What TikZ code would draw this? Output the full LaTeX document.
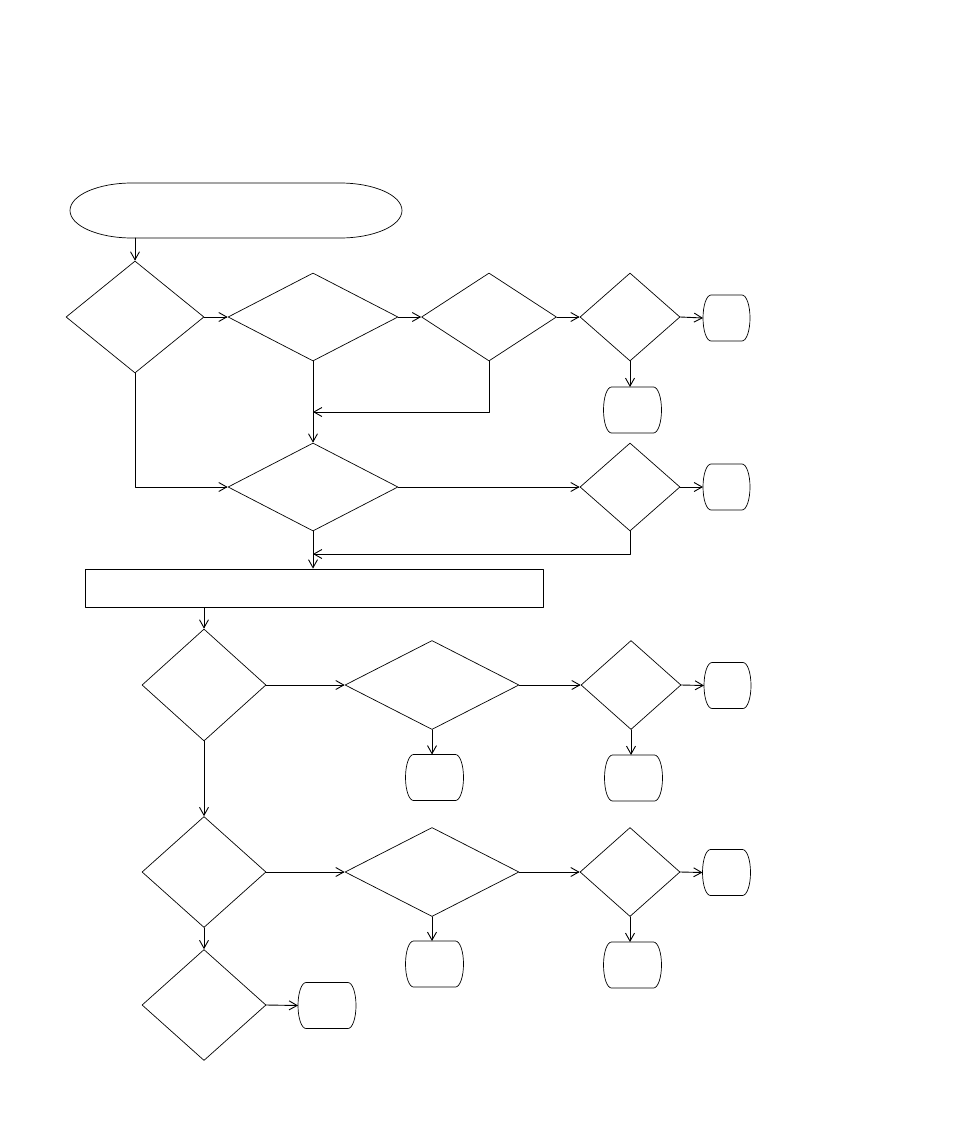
\documentclass[tikz,border=0pt]{standalone}
\usetikzlibrary{arrows.meta,shapes.geometric}
\newcommand{\termline}[3]{\draw [line width=0.7pt] ([xshift=#2]#1.north west)-- ([xshift=-#2]#1.north east) arc[start angle=90,end angle=-90,x radius=#2,y radius=#3] -- ([xshift=#2]#1.south west) arc[start angle=270,end angle=90,x radius=#2,y radius=#3];}

\begin{document}
\begin{tikzpicture}[line cap=round,line join=round,x=1pt,y=-1pt,
		>={Straight Barb[length=8pt,width=9pt]},
		decision/.style={diamond,draw,line width=0.7pt,inner sep=0pt,aspect=1},
		stopbox/.style={rectangle,inner sep=0pt,outer sep=0pt,minimum width=#1,minimum height=46},
		stopbox/.default=58,
		process/.style={rectangle,draw,line width=0.9pt,inner sep=0pt},
		flow/.style={->,line width=0.9pt}]
		\useasboundingbox (0,0) rectangle (954,1145);
		\node [rectangle,inner sep=0pt,outer sep=0pt,minimum width=332,minimum height=55] (start) at (236,210.5) {};
		\coordinate (s0) at (135,238);
		% row 1
		\node [decision,minimum width=138,minimum height=112] (d1) at (135,317) {};
		\node [decision,minimum width=170,minimum height=88] (d2) at (313,317) {};
		\node [decision,minimum width=135,minimum height=88] (d3) at (489,317) {};
		\node [decision,minimum width=100,minimum height=88] (d4) at (630,317) {};
		\node [stopbox=47] (t1) at (726.5,318) {};
		\node [stopbox] (t2) at (632.5,410) {};
		% row 2
		\node [decision,minimum width=170,minimum height=88] (d5) at (313,487) {};
		\node [decision,minimum width=100,minimum height=88] (d6) at (630,487) {};
		\node [stopbox=47] (t3) at (726.5,487) {};
		\coordinate (j1) at (313,412);
		\coordinate (j2) at (313,554);
		\node [process,minimum width=458,minimum height=38] (box) at (314,588) {};
		% row 3
		\node [decision,minimum width=124,minimum height=112] (d7) at (204,685) {};
		\node [decision,minimum width=174,minimum height=89] (d8) at (432,685) {};
		\node [decision,minimum width=100,minimum height=89] (d9) at (631,685) {};
		\node [stopbox=47] (t4) at (727.5,685.5) {};
		\node [stopbox] (t5) at (434.5,777.5) {};
		\node [stopbox] (t6) at (633.5,778) {};
		% row 4
		\node [decision,minimum width=124,minimum height=111] (d10) at (204,872) {};
		\node [decision,minimum width=174,minimum height=89] (d11) at (432,872) {};
		\node [decision,minimum width=100,minimum height=89] (d12) at (630,872) {};
		\node [stopbox=48] (t7) at (726.5,872.5) {};
		\node [stopbox] (t8) at (434.5,964) {};
		\node [stopbox] (t9) at (632.5,965) {};
		% row 5
		\node [decision,minimum width=124,minimum height=111] (d13) at (204,1005) {};
		\node [stopbox] (t10) at (327,1005.5) {};
		% terminal outlines
		\termline{start}{62pt}{27.5pt}
		\foreach \t in {t1,t2,t3,t4,t5,t6,t7,t8,t9,t10}
			\termline{\t}{8pt}{23pt};
		% connectors
		\draw [flow] (s0)-- (d1.north);
		\draw [flow] (d1.east)-- (d2.west);
		\draw [flow] (d2.east)-- (d3.west);
		\draw [flow] (d3.east)-- (d4.west);
		\draw [flow] (d4.east)-- (t1.west);
		\draw [flow] (d4.south)-- (d4.south |- t2.north);
		\draw [flow] (d2.south)-- (d5.north);
		\draw [flow] (d3.south) |- (j1);
		\draw [flow] (d1.south) |- (d5.west);
		\draw [flow] (d5.east)-- (d6.west);
		\draw [flow] (d6.east)-- (t3.west);
		\draw [flow] (d6.south) |- (j2);
		\draw [flow] (d5.south)-- (d5.south |- box.north);
		\draw [flow] (box.south -| d7.north)-- (d7.north);
		\draw [flow] (d7.east)-- (d8.west);
		\draw [flow] (d8.east)-- (d9.west);
		\draw [flow] (d9.east)-- (t4.west);
		\draw [flow] (d8.south)-- (d8.south |- t5.north);
		\draw [flow] (d9.south)-- (d9.south |- t6.north);
		\draw [flow] (d7.south)-- (d10.north);
		\draw [flow] (d10.east)-- (d11.west);
		\draw [flow] (d11.east)-- (d12.west);
		\draw [flow] (d12.east)-- (t7.west);
		\draw [flow] (d11.south)-- (d11.south |- t8.north);
		\draw [flow] (d12.south)-- (d12.south |- t9.north);
		\draw [flow] (d10.south)-- (d13.north);
		\draw [flow] (d13.east)-- (t10.west);
	\end{tikzpicture}
\end{document}
